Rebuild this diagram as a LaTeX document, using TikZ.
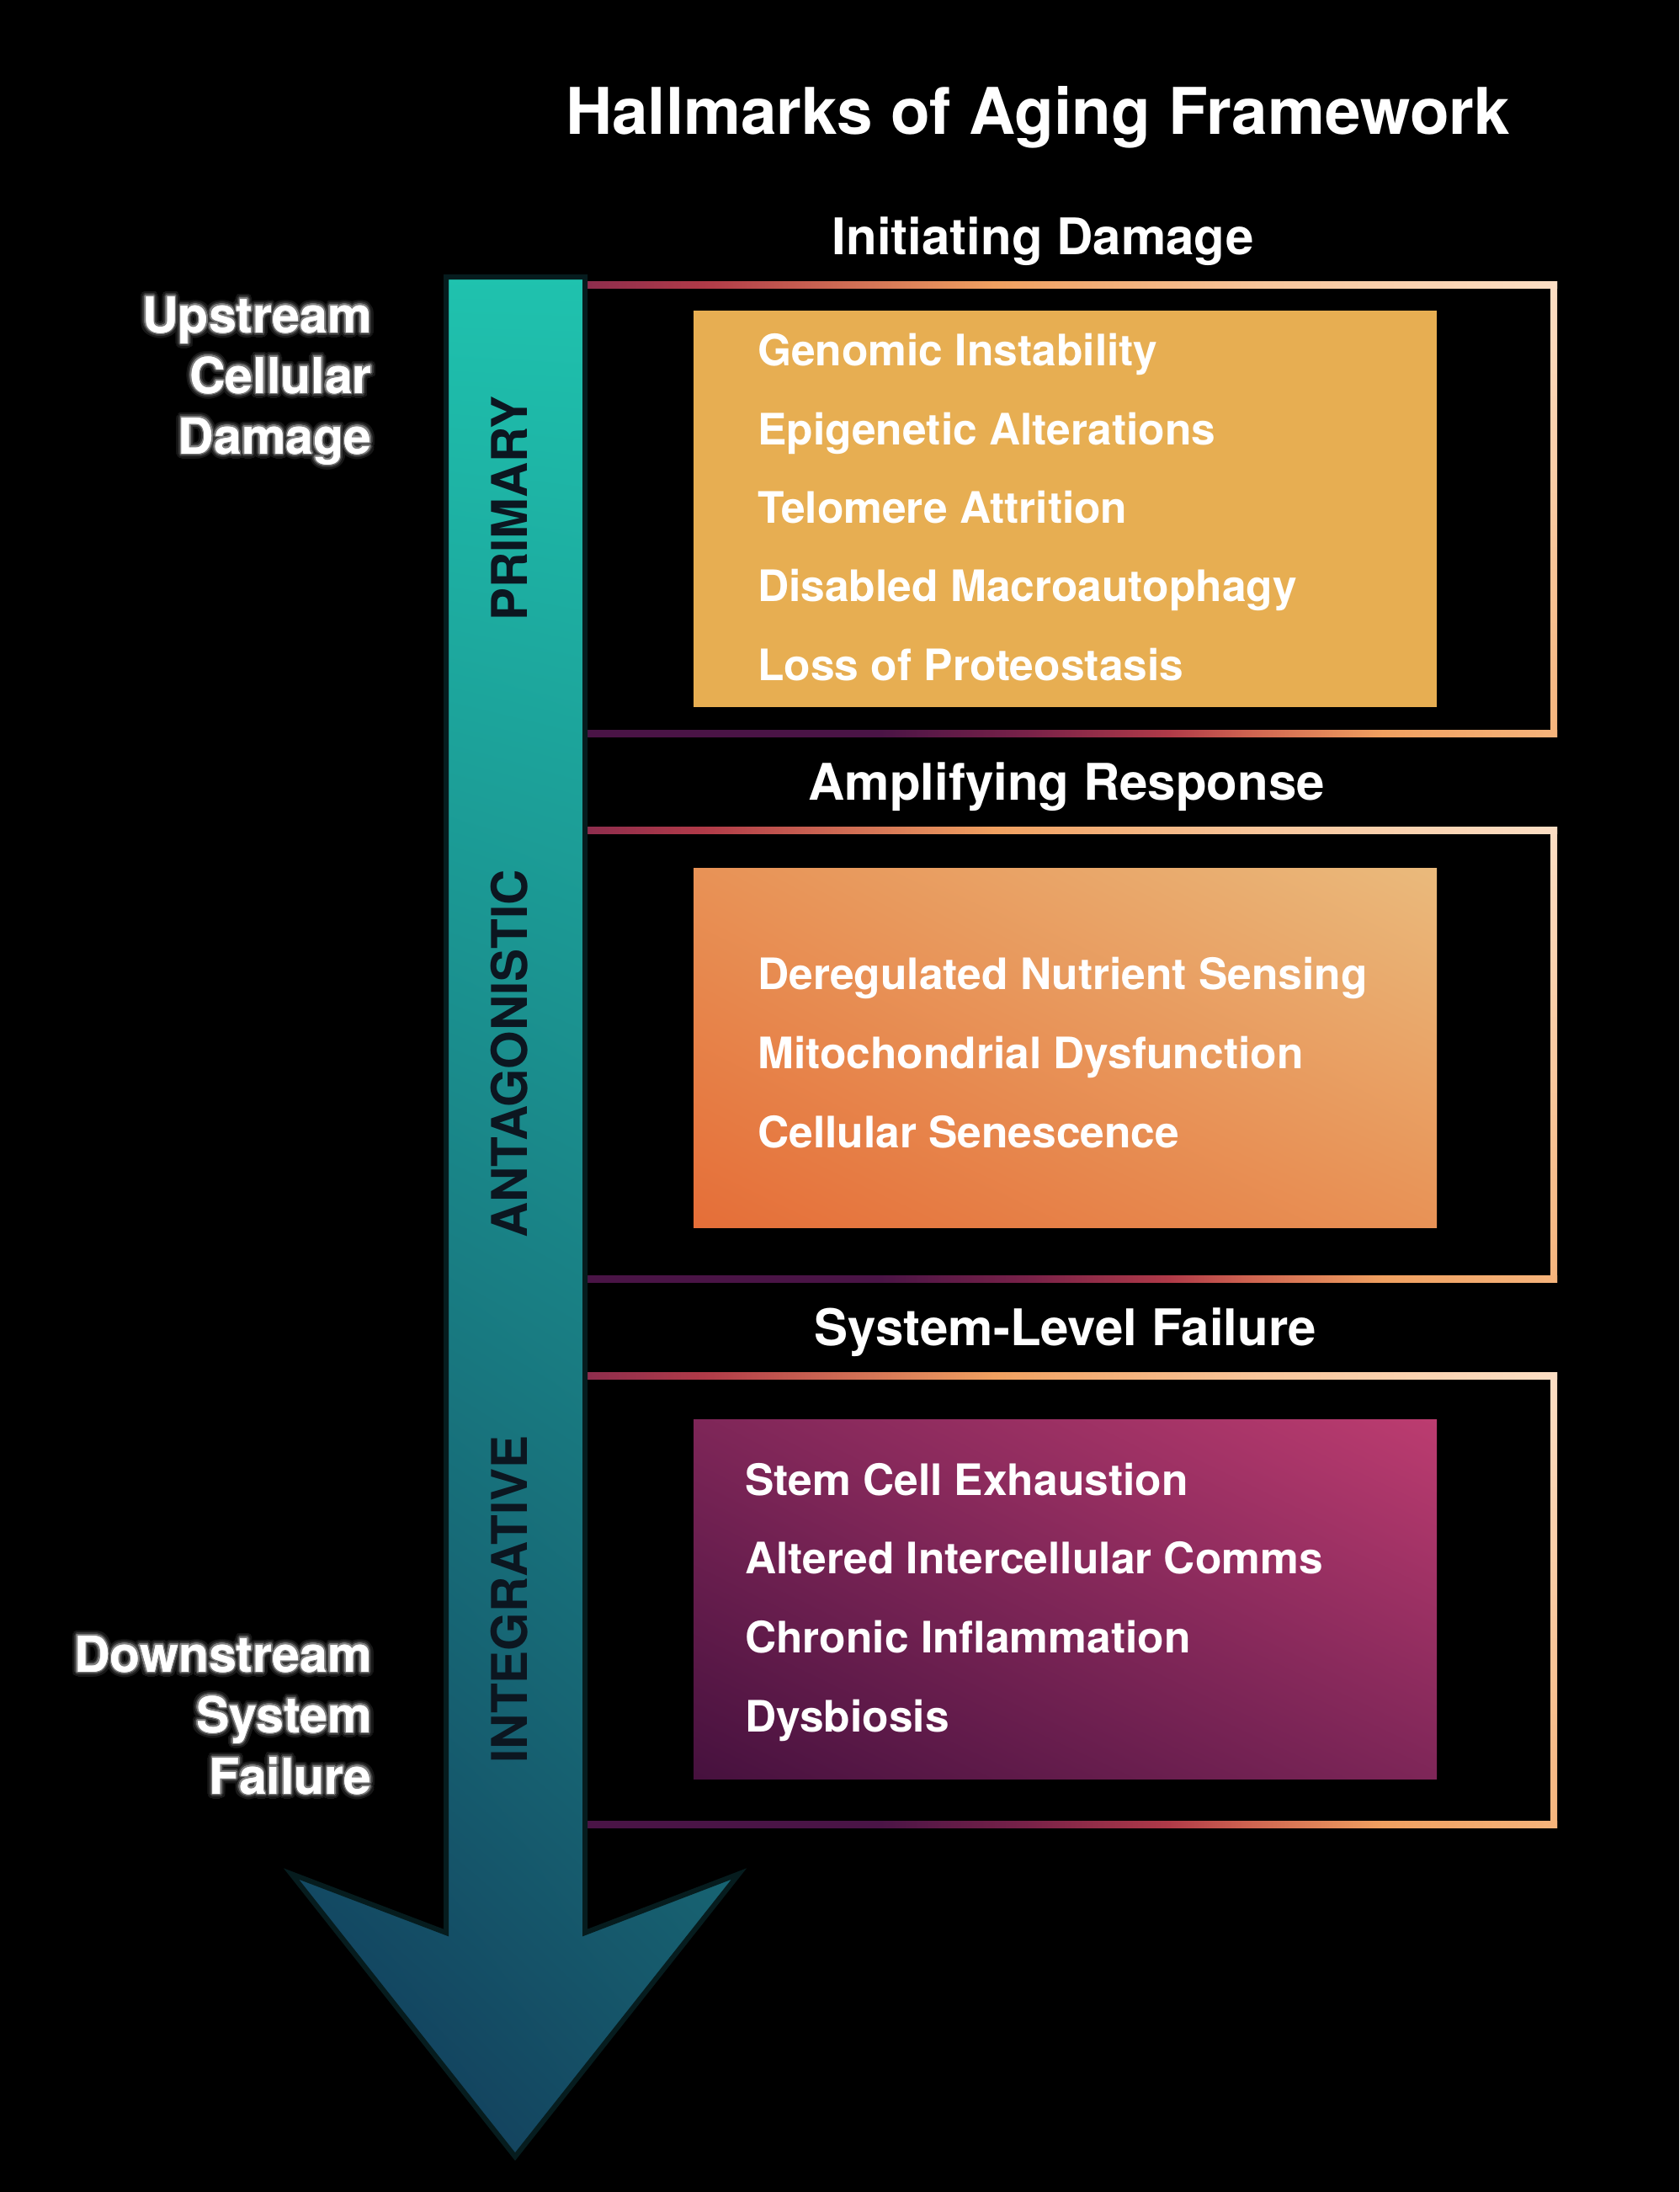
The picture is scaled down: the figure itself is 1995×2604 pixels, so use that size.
\documentclass[tikz,border=0pt]{standalone}
\usepackage{fontspec}
\setmainfont{TeX Gyre Heros}
\usepackage{contour}
\contournumber{24}
\usetikzlibrary{shadings}

\definecolor{barTop}{RGB}{31,194,174}
\definecolor{barBotL}{RGB}{17,52,86}
\definecolor{barBotR}{RGB}{22,84,104}
\definecolor{barEdge}{RGB}{6,28,30}
\definecolor{barText}{RGB}{12,22,32}
\definecolor{primFill}{RGB}{231,174,82}
\definecolor{antLL}{RGB}{229,110,56}
\definecolor{antUR}{RGB}{234,186,124}
\definecolor{antMid}{RGB}{232,146,86}
\definecolor{intLL}{RGB}{70,17,62}
\definecolor{intUR}{RGB}{188,60,112}
\definecolor{intMid}{RGB}{126,38,88}
\definecolor{edgeCrimson}{RGB}{142,45,77}
\definecolor{edgeRed}{RGB}{176,58,72}
\definecolor{edgeOrange}{RGB}{240,160,96}
\definecolor{edgePeach}{RGB}{248,198,156}
\definecolor{edgePale}{RGB}{252,222,196}
\definecolor{edgePurple}{RGB}{74,20,70}
\definecolor{edgeMaroon}{RGB}{122,34,72}
\definecolor{edgeCoral}{RGB}{206,98,80}
\definecolor{edgeLight}{RGB}{246,180,124}
\definecolor{glowA}{RGB}{24,24,24}
\definecolor{glowB}{RGB}{58,58,58}
\definecolor{glowC}{RGB}{125,125,125}

\pgfdeclarehorizontalshading{frametop}{100bp}{color(0bp)=(edgeCrimson); color(25bp)=(edgeCrimson); color(31bp)=(edgeRed); color(46bp)=(edgeOrange); color(60bp)=(edgePeach); color(75bp)=(edgePale); color(100bp)=(edgePale)}
\pgfdeclarehorizontalshading{framebottom}{100bp}{color(0bp)=(edgePurple); color(25bp)=(edgePurple); color(40bp)=(edgePurple); color(48bp)=(edgeMaroon); color(55bp)=(edgeRed); color(59bp)=(edgeCoral); color(66bp)=(edgeOrange); color(75bp)=(edgeLight); color(100bp)=(edgeLight)}
\pgfdeclareverticalshading{frameright}{100bp}{color(0bp)=(edgeLight); color(25bp)=(edgeLight); color(75bp)=(edgePale); color(100bp)=(edgePale)}

\newcommand{\glowtext}[1]{%
  \rlap{\contourlength{6pt}\contour{glowA}{#1}}%
  \rlap{\contourlength{3.5pt}\contour{glowB}{#1}}%
  \rlap{\contourlength{1.5pt}\contour{glowC}{#1}}%
  #1}

\begin{document}
\begin{tikzpicture}[x=1pt, y=-1pt,
  maintitle/.style={font=\fontsize{76.5}{90}\selectfont\bfseries, text=white, inner sep=0pt, anchor=base},
  header/.style={font=\fontsize{60}{70}\selectfont\bfseries, text=white, inner sep=0pt, anchor=base},
  hallmark/.style={font=\fontsize{51.5}{60}\selectfont\bfseries, text=white, inner sep=0pt, anchor=base west},
  sidelabel/.style={font=\fontsize{59}{70}\selectfont\bfseries, text=white, inner sep=0pt, anchor=base east},
  phase/.style={font=\fontsize{58.5}{70}\selectfont\bfseries, text=barText, inner sep=0pt, rotate=90},
  arrowbody/.style={upper left=barTop, upper right=barTop, lower left=barBotL, lower right=barBotR, draw=barEdge, line width=6pt}
]
  % Background
  \path[use as bounding box, fill=black] (0,0) rectangle (1995,2604);

  % Frames
  \shade[shading=frameright] (1842,334) rectangle (1850,875);
  \shade[shading=frametop] (697,334) rectangle (1850,342);
  \shade[shading=framebottom] (697,867) rectangle (1850,875);
  \shade[shading=frameright] (1842,982) rectangle (1850,1523);
  \shade[shading=frametop] (697,982) rectangle (1850,990);
  \shade[shading=framebottom] (697,1515) rectangle (1850,1523);
  \shade[shading=frameright] (1842,1630) rectangle (1850,2171);
  \shade[shading=frametop] (697,1630) rectangle (1850,1638);
  \shade[shading=framebottom] (697,2163) rectangle (1850,2171);

  % Arrow
  \shadedraw[arrowbody] (530,329) -- (530,2296) -- (346,2226) -- (612,2562)
    -- (878,2226) -- (695,2296) -- (695,329) -- cycle;

  % Boxes
  \fill[primFill] (824,369) rectangle (1707,840);
  \shade[lower left=antLL, upper right=antUR, upper left=antMid, lower right=antMid] (824,1031) rectangle (1707,1458);
  \shade[lower left=intLL, upper right=intUR, upper left=intMid, lower right=intMid] (824,1686) rectangle (1707,2113);

  % Titles
  \node[maintitle] (title) at (1233,159) {Hallmarks of Aging Framework};
  \node[header] (initHead) at (1239,302) {Initiating Damage};
  \node[header] (ampHead) at (1267,950) {Amplifying Response};
  \node[header] (sysHead) at (1266,1598) {System-Level Failure};

  % Phases on the arrow
  \node[phase] (primary) at (605,604) {PRIMARY};
  \node[phase] (antagonistic) at (605,1252) {ANTAGONISTIC};
  \node[phase] (integrative) at (605,1900) {INTEGRATIVE};

  % Side labels
  \node[sidelabel] (up1) at (442,395) {\glowtext{Upstream}};
  \node[sidelabel] (up2) at (442,467) {\glowtext{Cellular}};
  \node[sidelabel] (up3) at (442,539) {\glowtext{Damage}};
  \node[sidelabel] (down1) at (442,1986) {\glowtext{Downstream}};
  \node[sidelabel] (down2) at (442,2058) {\glowtext{System}};
  \node[sidelabel] (down3) at (442,2131) {\glowtext{Failure}};

  % Primary hallmarks
  \node[hallmark] (genomic) at (900,434) {Genomic Instability};
  \node[hallmark] (epigenetic) at (900,528) {Epigenetic Alterations};
  \node[hallmark] (telomere) at (900,621) {Telomere Attrition};
  \node[hallmark] (autophagy) at (900,714) {Disabled Macroautophagy};
  \node[hallmark] (proteostasis) at (900,808) {Loss of Proteostasis};

  % Antagonistic hallmarks
  \node[hallmark] (nutrient) at (900,1175) {Deregulated Nutrient Sensing};
  \node[hallmark] (mito) at (900,1269) {Mitochondrial Dysfunction};
  \node[hallmark] (senescence) at (900,1363) {Cellular Senescence};

  % Integrative hallmarks
  \node[hallmark] (stemcell) at (885,1776) {Stem Cell Exhaustion};
  \node[hallmark] (comms) at (885,1869) {Altered Intercellular Comms};
  \node[hallmark] (inflammation) at (885,1963) {Chronic Inflammation};
  \node[hallmark] (dysbiosis) at (885,2057) {Dysbiosis};
\end{tikzpicture}
\end{document}
